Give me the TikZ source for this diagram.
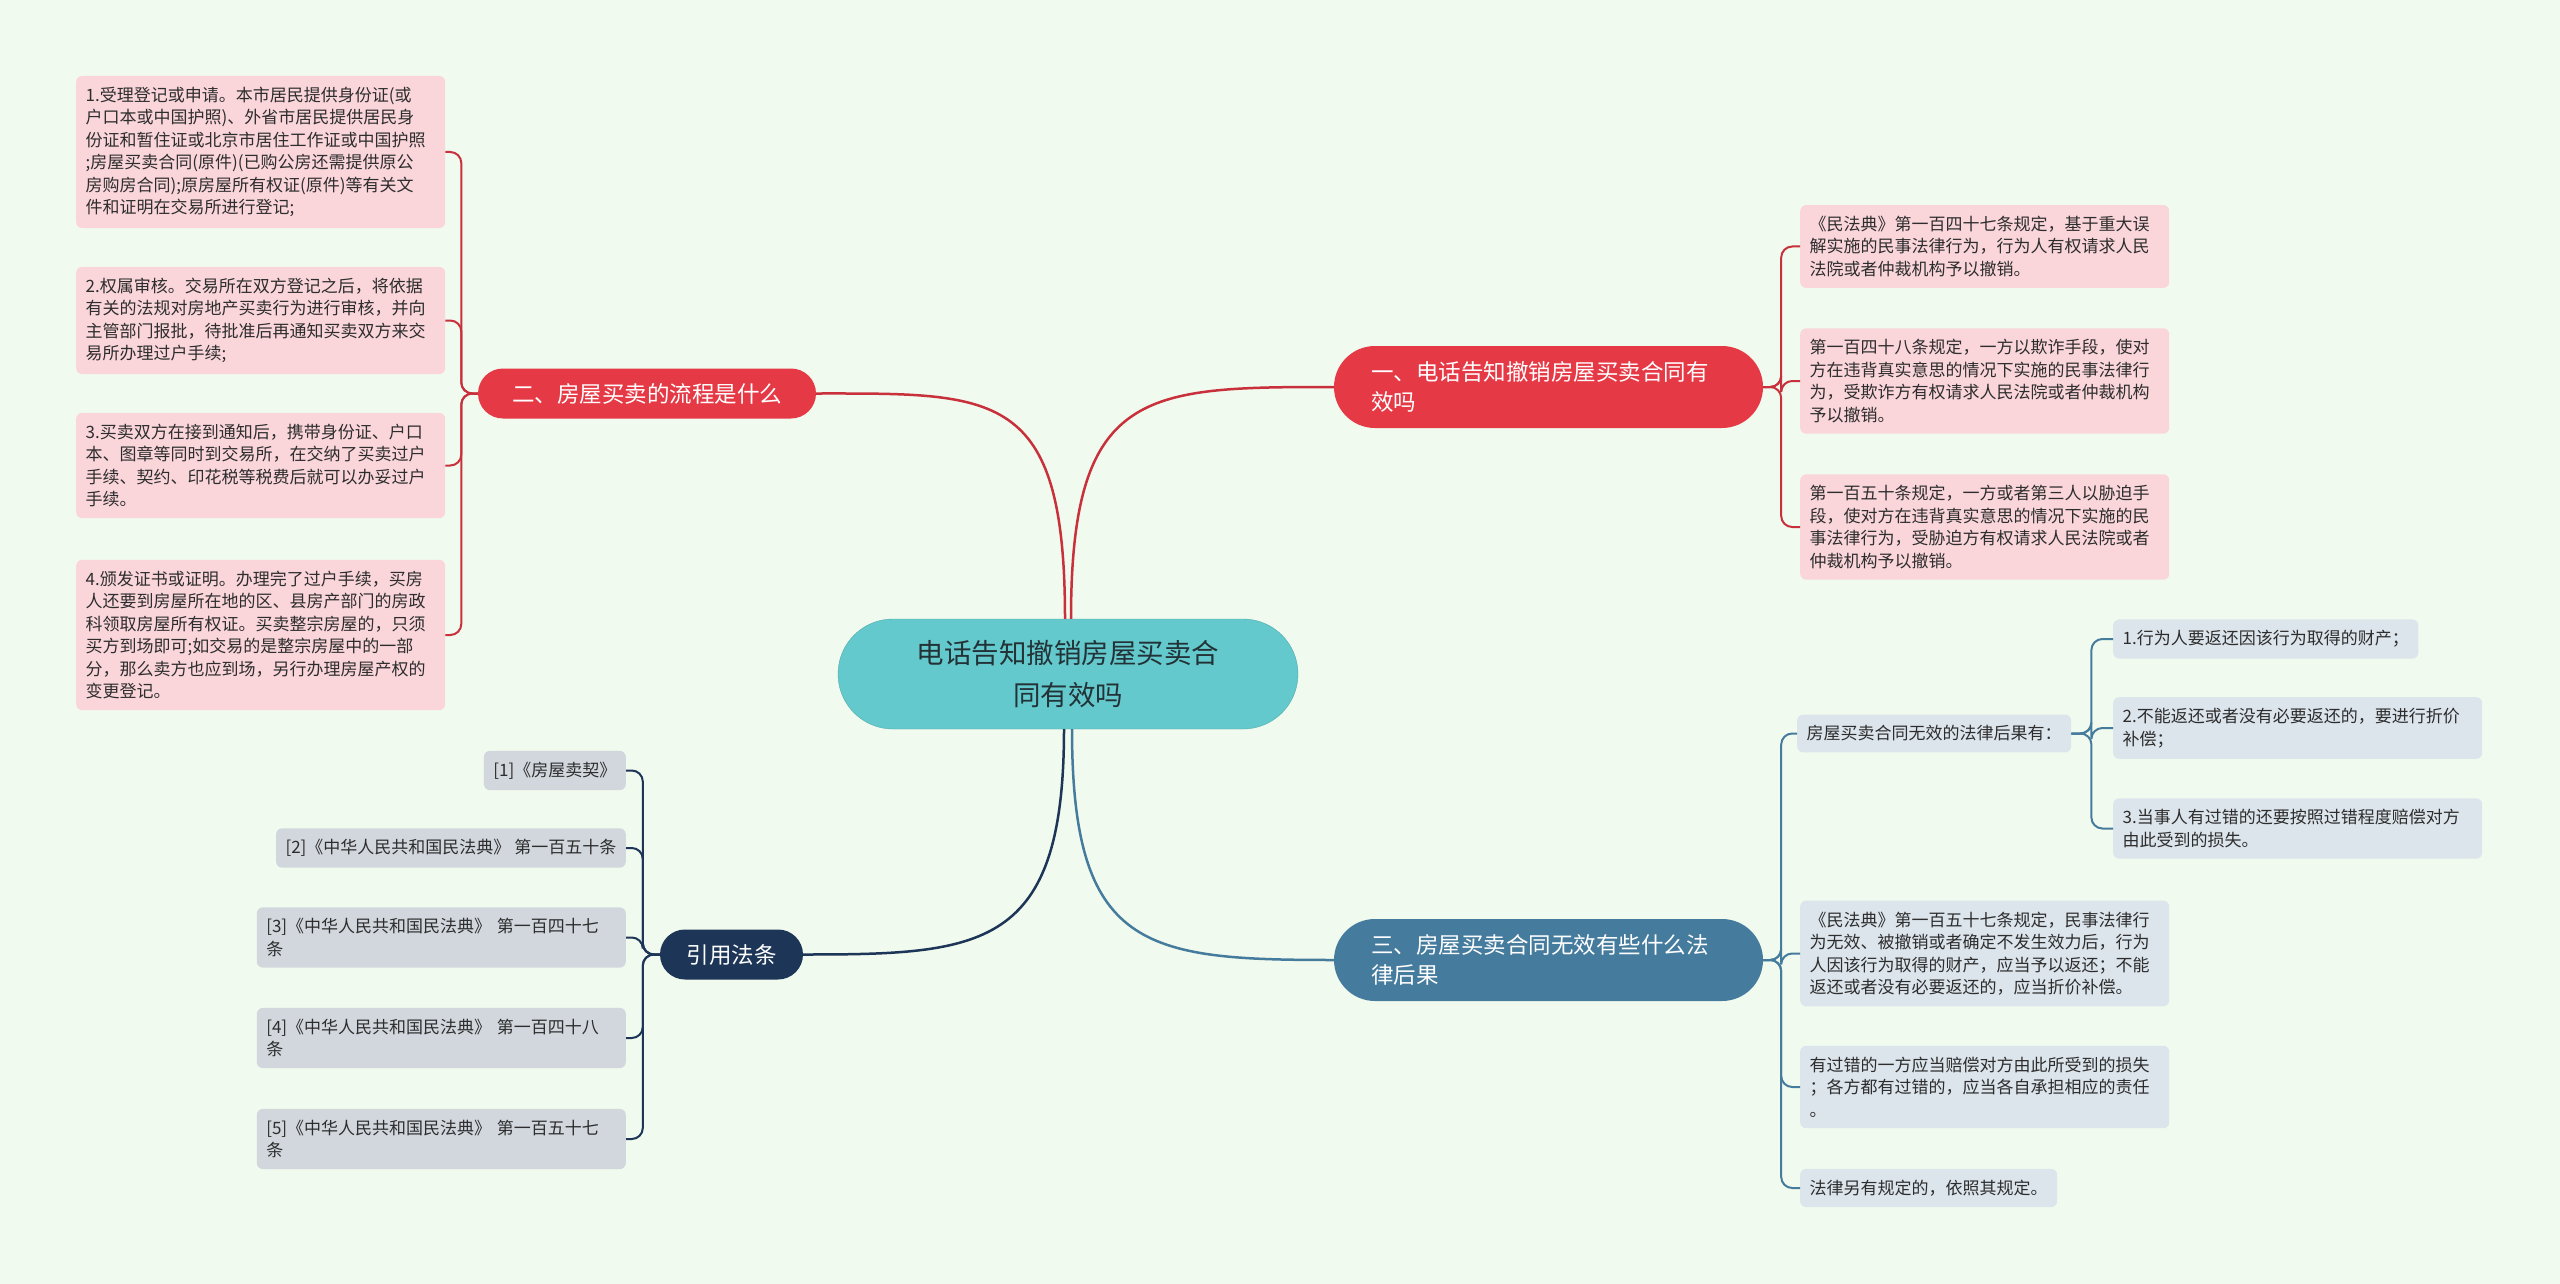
\documentclass[tikz,border=0pt]{standalone}
\usepackage{fontspec}
\newfontfamily\cjk{Noto Sans CJK SC}
\definecolor{bgclr}{RGB}{241,250,238}
\definecolor{ctrfill}{RGB}{99,201,204}
\definecolor{ctrtext}{RGB}{35,50,55}
\definecolor{redfill}{RGB}{230,57,70}
\definecolor{redline}{RGB}{200,48,60}
\definecolor{bluefill}{RGB}{69,123,157}
\definecolor{navyfill}{RGB}{29,53,87}
\definecolor{pinkfill}{RGB}{250,214,219}
\definecolor{bluelt}{RGB}{220,228,236}
\definecolor{greylt}{RGB}{210,215,222}
\definecolor{txtclr}{RGB}{45,45,45}
\tikzset{
  ctrnode/.style={rectangle,rounded corners=55pt,fill=ctrfill,draw=ctrfill!85!black,
    minimum width=460pt,minimum height=110pt,align=center,text=ctrtext,
    font=\cjk\fontsize{27.5}{41.5}\selectfont},
  brnode/.style={rectangle,rounded corners=25pt,text=white,
    font=\cjk\fontsize{22.5}{30}\selectfont},
  rbranch/.style={brnode,fill=redfill,rounded corners=41pt,text width=355pt,
    inner xsep=37pt,minimum height=82pt,align=left},
  bbranch/.style={brnode,fill=bluefill,rounded corners=41pt,text width=355pt,
    inner xsep=37pt,minimum height=82pt,align=left},
  lbranch/.style={brnode,fill=#1,minimum height=50pt,align=center},
  leafbase/.style={rectangle,rounded corners=6pt,text=txtclr,align=left,
    font=\cjk\fontsize{17}{22.5}\selectfont,inner xsep=9.5pt,inner ysep=11pt},
  pleaf/.style={leafbase,fill=pinkfill},
  bleaf/.style={leafbase,fill=bluelt},
  gleaf/.style={leafbase,fill=greylt},
  wide/.style={text width=350pt},
  rlink/.style={draw=redline,line width=2pt,rounded corners=11pt},
  blink/.style={draw=bluefill,line width=2pt,rounded corners=11pt},
  nlink/.style={draw=navyfill,line width=2pt,rounded corners=11pt},
}
\begin{document}
\begin{tikzpicture}[x=1pt,y=-1pt]
  \useasboundingbox (0,0) rectangle (2560,1284);
  \fill[bgclr] (0,0) rectangle (2560,1284);

  % centre and main branches
  \node[ctrnode] (ctr) at (1068,674) {电话告知撤销房屋买卖合\\同有效吗};
  \node[rbranch] (b1) at (1548.5,387) {一、电话告知撤销房屋买卖合同有\\效吗};
  \node[bbranch] (b3) at (1548.5,960) {三、房屋买卖合同无效有些什么法\\律后果};
  \node[lbranch=redfill,minimum width=338pt] (b2) at (647,393.5) {二、房屋买卖的流程是什么};
  \node[lbranch=navyfill,minimum width=143pt] (b4) at (731.5,954.5) {引用法条};

  % left: process steps
  \node[pleaf,wide,anchor=west] (l1) at (76,152) {1.受理登记或申请。本市居民提供身份证(或\\户口本或中国护照)、外省市居民提供居民身\\份证和暂住证或北京市居住工作证或中国护照\\;房屋买卖合同(原件)(已购公房还需提供原公\\房购房合同);原房屋所有权证(原件)等有关文\\件和证明在交易所进行登记;};
  \node[pleaf,wide,anchor=west] (l2) at (76,320.5) {2.权属审核。交易所在双方登记之后，将依据\\有关的法规对房地产买卖行为进行审核，并向\\主管部门报批，待批准后再通知买卖双方来交\\易所办理过户手续;};
  \node[pleaf,wide,anchor=west] (l3) at (76,465.5) {3.买卖双方在接到通知后，携带身份证、户口\\本、图章等同时到交易所，在交纳了买卖过户\\手续、契约、印花税等税费后就可以办妥过户\\手续。};
  \node[pleaf,wide,anchor=west] (l4) at (76,635) {4.颁发证书或证明。办理完了过户手续，买房\\人还要到房屋所在地的区、县房产部门的房政\\科领取房屋所有权证。买卖整宗房屋的，只须\\买方到场即可;如交易的是整宗房屋中的一部\\分，那么卖方也应到场，另行办理房屋产权的\\变更登记。};

  % right top: revocation articles
  \node[pleaf,wide,anchor=west] (r1) at (1800,246.5) {《民法典》第一百四十七条规定，基于重大误\\解实施的民事法律行为，行为人有权请求人民\\法院或者仲裁机构予以撤销。};
  \node[pleaf,wide,anchor=west] (r2) at (1800,381) {第一百四十八条规定，一方以欺诈手段，使对\\方在违背真实意思的情况下实施的民事法律行\\为，受欺诈方有权请求人民法院或者仲裁机构\\予以撤销。};
  \node[pleaf,wide,anchor=west] (r3) at (1800,527) {第一百五十条规定，一方或者第三人以胁迫手\\段，使对方在违背真实意思的情况下实施的民\\事法律行为，受胁迫方有权请求人民法院或者\\仲裁机构予以撤销。};

  % right bottom: consequences
  \node[bleaf,anchor=west] (q0) at (1797,733.5) {房屋买卖合同无效的法律后果有：};
  \node[bleaf,anchor=west] (q1) at (2113,639) {1.行为人要返还因该行为取得的财产；};
  \node[bleaf,wide,anchor=west] (q2) at (2113,728) {2.不能返还或者没有必要返还的，要进行折价\\补偿；};
  \node[bleaf,wide,anchor=west] (q3) at (2113,828.5) {3.当事人有过错的还要按照过错程度赔偿对方\\由此受到的损失。};
  \node[bleaf,wide,anchor=west] (q4) at (1800,953.5) {《民法典》第一百五十七条规定，民事法律行\\为无效、被撤销或者确定不发生效力后，行为\\人因该行为取得的财产，应当予以返还；不能\\返还或者没有必要返还的，应当折价补偿。};
  \node[bleaf,wide,anchor=west] (q5) at (1800,1087) {有过错的一方应当赔偿对方由此所受到的损失\\；各方都有过错的，应当各自承担相应的责任\\。};
  \node[bleaf,anchor=west] (q6) at (1800,1188) {法律另有规定的，依照其规定。};

  % left bottom: cited articles
  \node[gleaf,anchor=east] (f1) at (626,770.5) {[1]《房屋卖契》};
  \node[gleaf,anchor=east] (f2) at (626,848) {[2]《中华人民共和国民法典》 第一百五十条};
  \node[gleaf,wide,anchor=east] (f3) at (626,937.5) {[3]《中华人民共和国民法典》 第一百四十七\\条};
  \node[gleaf,wide,anchor=east] (f4) at (626,1038) {[4]《中华人民共和国民法典》 第一百四十八\\条};
  \node[gleaf,wide,anchor=east] (f5) at (626,1139) {[5]《中华人民共和国民法典》 第一百五十七\\条};

  % connectors
  \draw[rlink,line width=2.5pt] ([xshift=3pt]ctr.north) .. controls +(0,-230) and +(-190,0) .. (b1.west);
  \draw[rlink,line width=2.5pt] ([xshift=-3pt]ctr.north) .. controls +(0,-230) and +(180,0) .. (b2.east);
  \draw[blink,line width=2.5pt] ([xshift=4pt]ctr.south) .. controls +(0,220) and +(-190,0) .. (b3.west);
  \draw[nlink,line width=2.5pt] ([xshift=-4pt]ctr.south) .. controls +(0,220) and +(180,0) .. (b4.east);

  \foreach \c in {l1,l2,l3,l4}
    \draw[rlink] (b2.west) -- ++(-16.5,0) |- (\c.east);
  \foreach \c in {r1,r2,r3}
    \draw[rlink] (b1.east) -- ++(18,0) |- (\c.west);
  \foreach \c in {q0,q4,q5,q6}
    \draw[blink] (b3.east) -- ++(18,0) |- (\c.west);
  \foreach \c in {q1,q2,q3}
    \draw[blink] (q0.east) -- ++(20,0) |- (\c.west);
  \foreach \c in {f1,f2,f3,f4,f5}
    \draw[nlink] (b4.west) -- ++(-17,0) |- (\c.east);
\end{tikzpicture}
\end{document}
